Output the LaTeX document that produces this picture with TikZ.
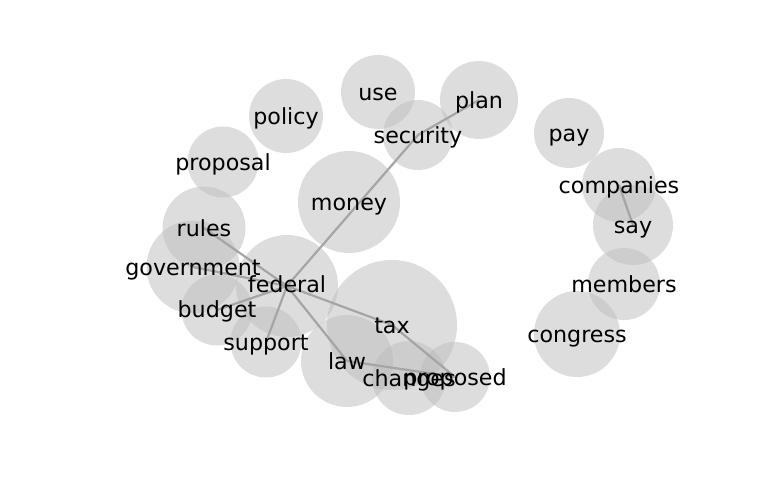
\documentclass[tikz,border=0pt]{standalone}
\usepackage{fontspec}
\setmainfont{DejaVu Sans}
\definecolor{nodegray}{RGB}{188,188,188}
\definecolor{edgegray}{RGB}{165,165,165}
\begin{document}
\begin{tikzpicture}[x=1pt,y=-1pt,
  bubble/.style={circle, inner sep=0pt, fill=nodegray, fill opacity=0.5, draw=none, minimum size=#1},
  word/.style={anchor=base, inner sep=0pt, yshift=-1.5pt, font=\fontsize{22.2}{26}\selectfont, text=black},
  link/.style={draw=edgegray, line width=2.2pt}]
\useasboundingbox (0,0) rectangle (768,500);
% circles
\node[bubble=74pt] (use) at (378,92) {};
\node[bubble=78pt] (plan) at (479,100) {};
\node[bubble=70pt] (security) at (418,135) {};
\node[bubble=74pt] (policy) at (286,116) {};
\node[bubble=70pt] (pay) at (569,133) {};
\node[bubble=71pt] (proposal) at (223,162) {};
\node[bubble=102pt] (money) at (349,202) {};
\node[bubble=74pt] (companies) at (619,185) {};
\node[bubble=80pt] (say) at (633,225) {};
\node[bubble=83pt] (rules) at (204,228) {};
\node[bubble=93pt] (government) at (193,267) {};
\node[bubble=102pt] (federal) at (287,286) {};
\node[bubble=71pt] (budget) at (217,310) {};
\node[bubble=72pt] (members) at (624,284) {};
\node[bubble=130pt] (tax) at (392,325) {};
\node[bubble=86pt] (congress) at (577,334) {};
\node[bubble=71pt] (support) at (266,342) {};
\node[bubble=92pt] (law) at (347,361) {};
\node[bubble=74pt] (changes) at (409,378) {};
\node[bubble=70pt] (proposed) at (455,377) {};
% edges
\draw[link] (federal.center) -- (rules.center);
\draw[link] (federal.center) -- (government.center);
\draw[link] (federal.center) -- (budget.center);
\draw[link] (federal.center) -- (support.center);
\draw[link] (federal.center) -- (security.center);
\draw[link] (security.center) -- (plan.center);
\draw[link] (federal.center) -- (tax.center);
\draw[link] (tax.center) -- (proposed.center);
\draw[link] (federal.center) -- (law.center);
\draw[link] (law.center) -- (proposed.center);
\draw[link] (companies.center) -- (say.center);
% labels
\node[word] (tuse) at (378,99) {use};
\node[word] (tplan) at (479,107) {plan};
\node[word] (tsecurity) at (418,142) {security};
\node[word] (tpolicy) at (286,123) {policy};
\node[word] (tpay) at (569,140) {pay};
\node[word] (tproposal) at (223,169) {proposal};
\node[word] (tmoney) at (349,209) {money};
\node[word] (tcompanies) at (619,192) {companies};
\node[word] (tsay) at (633,232) {say};
\node[word] (trules) at (204,235) {rules};
\node[word] (tgovernment) at (193,274) {government};
\node[word] (tfederal) at (287,291) {federal};
\node[word] (tbudget) at (217,316) {budget};
\node[word] (tmembers) at (624,291) {members};
\node[word] (ttax) at (392,332) {tax};
\node[word] (tcongress) at (577,341) {congress};
\node[word] (tsupport) at (266,349) {support};
\node[word] (tlaw) at (347,368) {law};
\node[word] (tchanges) at (409,385) {changes};
\node[word] (tproposed) at (455,384) {proposed};
\end{tikzpicture}
\end{document}
